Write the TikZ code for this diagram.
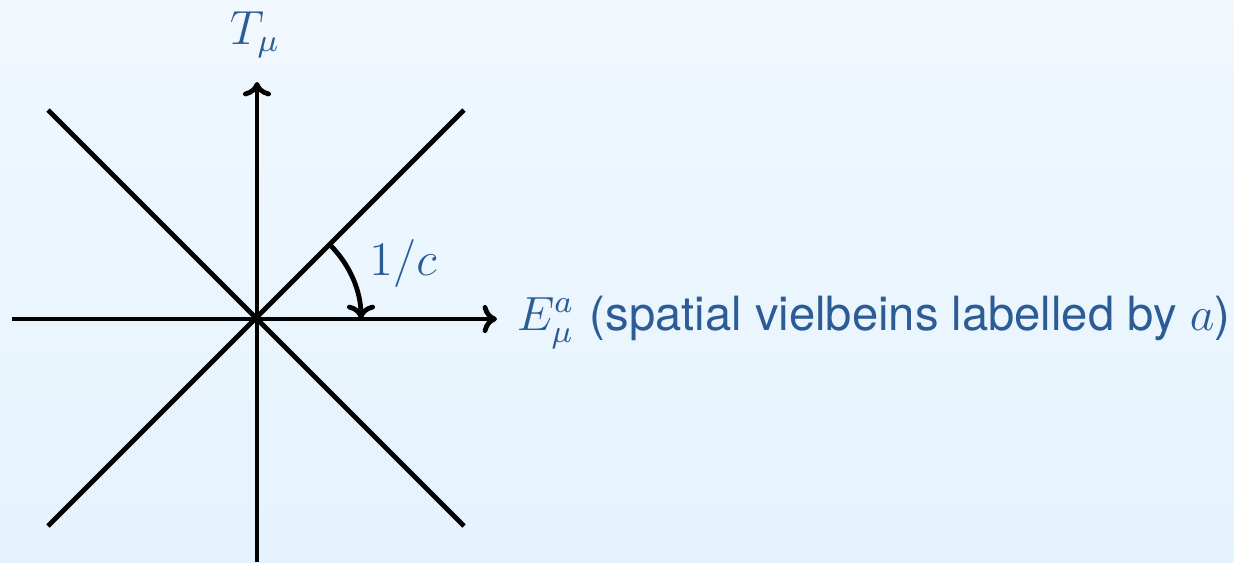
\documentclass[tikz,border=0pt]{standalone}
\usepackage{fontspec}
\setsansfont{TeX Gyre Heros}
\usetikzlibrary{arrows.meta}
\definecolor{bgtop}{RGB}{241,248,254}
\definecolor{bgbot}{RGB}{229,243,253}
\definecolor{labblue}{RGB}{44,92,150}
\tikzset{
  axisline/.style={line width=1.2pt, black},
  axisarrow/.style={axisline, -{Computer Modern Rightarrow[length=3.6pt,width=7pt,line width=1.2pt]}},
  lab/.style={text=labblue, font=\fontsize{11.8}{14}\selectfont, inner sep=0pt},
}
\begin{document}
\begin{tikzpicture}[x=0.25pt,y=0.25pt]
  \shade[top color=bgtop, bottom color=bgbot] (-257,-243) rectangle (977,319);
  \useasboundingbox (-257,-243) rectangle (977,319);
  \coordinate (O) at (0,0);
  \coordinate (vb) at (0,-243);
  \coordinate (vt) at (0,237);
  \coordinate (hl) at (-245,0);
  \coordinate (hr) at (240,0);
  \coordinate (ul) at (-209,209);
  \coordinate (lr) at (207,-207);
  \coordinate (ur) at (207,209);
  \coordinate (ll) at (-209,-207);
  \coordinate (arcs) at (45:104);
  \draw[axisline] (ul) -- (lr);
  \draw[axisline] (ur) -- (ll);
  \draw[axisarrow] (vb) -- (vt);
  \draw[axisarrow] (hl) -- (hr);
  \draw[axisarrow] (arcs) arc[start angle=45, end angle=0, radius=104];
  \node[lab] (T) at (-2,284) {$T_\mu$};
  \node[lab, anchor=west] (E) at (259,-3) {$E^a_\mu$ \sffamily(spatial vielbeins labelled by $a$)};
  \node[lab] (c) at (146,56) {$1/c$};
\end{tikzpicture}
\end{document}
